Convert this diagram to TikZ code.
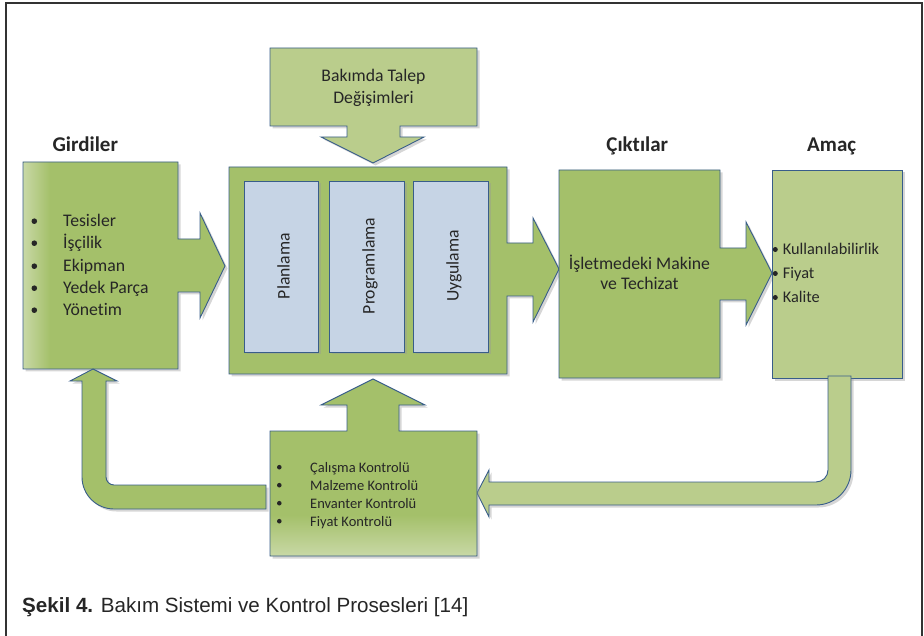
\documentclass[tikz,border=0pt]{standalone}
\usepackage{fontspec}
\setmainfont{Carlito}[RawFeature={-liga}]
\newfontfamily\capfont{Liberation Sans}
\definecolor{gmain}{RGB}{164,192,106}
\definecolor{glight}{RGB}{186,205,140}
\definecolor{gfade}{RGB}{200,216,165}
\definecolor{bluebox}{RGB}{198,212,229}
\definecolor{edgeblue}{RGB}{56,93,138}
\definecolor{ink}{RGB}{38,38,38}
\begin{document}
\begin{tikzpicture}[x=1pt,y=-1pt,
  outl/.style={draw=edgeblue, line width=0.9pt, line join=miter},
  shad/.style={preaction={fill=black!40, opacity=0.4, draw=none,
      transform canvas={shift={(2.5pt,-2.5pt)}}}},
  body/.style={font=\fontsize{17.7}{21}\selectfont, text=ink, inner sep=0pt},
  head/.style={font=\fontsize{21}{25}\selectfont\bfseries, text=ink, inner sep=0pt},
  smalltxt/.style={font=\fontsize{14.5}{17}\selectfont, text=ink, inner sep=0pt},
  amactxt/.style={font=\fontsize{16.3}{19}\selectfont, text=ink, inner sep=0pt},
  dot/.style={fill=ink}
]
\useasboundingbox (0,0) rectangle (924,636);
% frame
\draw[black!80, line width=1.5pt] (6,636) -- (6,3) -- (922,3) -- (922,636);

% Girdiler callout
\fill[gmain, shad] (23,162) -- (178,162) -- (178,239) -- (200,239) -- (200,213) -- (225,266)
  -- (200,318) -- (200,292) -- (178,292) -- (178,369) -- (23,369) -- cycle;
\shade[left color=gfade, right color=gmain] (23.5,162.5) rectangle (50,368.5);
\draw[outl] (23,162) -- (178,162) -- (178,239) -- (200,239) -- (200,213) -- (225,266)
  -- (200,318) -- (200,292) -- (178,292) -- (178,369) -- (23,369) -- cycle;

% middle callout
\filldraw[outl, fill=gmain, shad] (229,167) -- (507,167) -- (507,243) -- (533,243) -- (533,218)
  -- (559,269) -- (533,322) -- (533,296) -- (507,296) -- (507,374) -- (229,374) -- cycle;
\filldraw[outl, fill=bluebox, shad] (244,181) rectangle (318,352);
\filldraw[outl, fill=bluebox, shad] (329,181) rectangle (404,352);
\filldraw[outl, fill=bluebox, shad] (413,181) rectangle (488,352);

% top callout
\filldraw[outl, fill=glight, shad] (270,48) -- (477,48) -- (477,126) -- (400,126) -- (400,137)
  -- (424,137) -- (373,163) -- (321,137) -- (347,137) -- (347,126) -- (270,126) -- cycle;

% Ciktilar callout
\filldraw[outl, fill=gmain, shad] (559,170) -- (720,170) -- (720,248) -- (746,248) -- (746,222)
  -- (772,273) -- (746,325) -- (746,300) -- (720,300) -- (720,378) -- (559,378) -- cycle;

% Amac box
\filldraw[outl, fill=glight, shad] (772,170) rectangle (902,378);

% right feedback arrow
\filldraw[outl, fill=glight, shad] (828,376) -- (828,470) arc[start angle=0, end angle=90, radius=12]
  -- (489,482) -- (489,470) -- (477,493) -- (489,517) -- (489,505) -- (816,505)
  arc[start angle=90, end angle=0, radius=35] -- (851,376) -- cycle;

% control callout
\fill[gmain, shad] (270,431) -- (347,431) -- (347,405) -- (321,405) -- (373,379) -- (425,405)
  -- (399,405) -- (399,431) -- (477,431) -- (477,556) -- (270,556) -- cycle;
\shade[top color=gmain, bottom color=gfade] (270.5,515) rectangle (476.5,555.5);
\draw[outl] (270,431) -- (347,431) -- (347,405) -- (321,405) -- (373,379) -- (425,405)
  -- (399,405) -- (399,431) -- (477,431) -- (477,556) -- (270,556) -- cycle;

% left feedback arrow
\filldraw[outl, fill=gmain, shad] (266,485) -- (114,485) arc[start angle=90, end angle=180, radius=8]
  -- (106,381) -- (117,381) -- (93,369) -- (70,381) -- (82,381) -- (82,477)
  arc[start angle=180, end angle=90, radius=32] -- (266,509) -- cycle;

% headings
\node[head, anchor=base] (hgir) at (85.3,152) {Girdiler};
\node[head, anchor=base] (hcik) at (637.3,152) {Çıktılar};
\node[head, anchor=base] (hama) at (831.7,152) {Amaç};

% Girdiler list
\foreach \yy/\tt [count=\i] in {227/Tesisler, 249/İşçilik, 272/Ekipman, 294/Yedek Parça, 316/Yönetim}{
  \fill[dot] (34.3,\yy-5.8) circle (2.8);
  \node[body, anchor=base west] (gir\i) at (63,\yy) {\tt};
}

% top text
\node[body, anchor=base] (talep1) at (373.5,82) {Bakımda Talep};
\node[body, anchor=base] (talep2) at (373.5,104) {Değişimleri};

% rotated labels
\node[body, anchor=base, rotate=90] (plan) at (289.5,266) {Planlama};
\node[body, anchor=base, rotate=90] (prog) at (374.5,266) {Programlama};
\node[body, anchor=base, rotate=90] (uyg) at (458.5,266) {Uygulama};

% Ciktilar text
\node[body, anchor=base] (cik1) at (639.5,270) {İşletmedeki Makine};
\node[body, anchor=base] (cik2) at (639.5,290) {ve Techizat};

% Amac list
\foreach \yy/\tt [count=\i] in {255/Kullanılabilirlik, 279/Fiyat, 303/Kalite}{
  \fill[dot] (775.3,\yy-5.5) circle (2.5);
  \node[amactxt, anchor=base west] (ama\i) at (782.7,\yy) {\tt};
}

% control list
\foreach \yy/\tt [count=\i] in {472/Çalışma Kontrolü, 490/Malzeme Kontrolü, 508/Envanter Kontrolü, 526/Fiyat Kontrolü}{
  \fill[dot] (279.3,\yy-4.8) circle (2.3);
  \node[smalltxt, anchor=base west] (kon\i) at (310,\yy) {\tt};
}

% caption
\node[anchor=base west, inner sep=0pt, text=ink, font=\capfont\fontsize{20.6}{24}\selectfont] (cap)
  at (22,612) {\textbf{Şekil 4.} Bakım Sistemi ve Kontrol Prosesleri [14]};
\end{tikzpicture}
\end{document}
